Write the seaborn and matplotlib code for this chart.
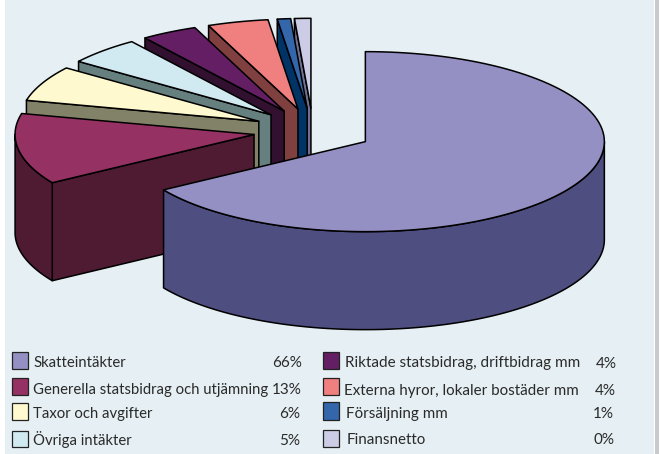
import numpy as np
import matplotlib
matplotlib.use("Agg")
import matplotlib.pyplot as plt
from matplotlib.patches import Rectangle, Polygon
import seaborn as sns

categories = ["Skatteintäkter", "Generella statsbidrag och utjämning", "Taxor och avgifter",
              "Övriga intäkter", "Riktade statsbidrag, driftbidrag mm",
              "Externa hyror, lokaler bostäder mm", "Försäljning mm", "Finansnetto"]
values = [66.0, 12.75, 6.35, 5.0, 3.8, 4.1, 0.9, 1.1]
labels = ["66%", "13%", "6%", "5%", "4%", "4%", "1%", "0%"]
top_colors = ["#9590C3", "#963163", "#FFF9CF", "#D1EAF2", "#641F64", "#F08080", "#3366AA", "#CCCCE6"]
side_colors = ["#4F4E80", "#4E1B33", "#828268", "#668080", "#32102F", "#804040", "#003366", "#707090"]

BG = "#E6EFF3"
sns.set_style("white")
plt.rcParams["font.family"] = ["Lato", "DejaVu Sans"]
palette = sns.color_palette(top_colors)
side_palette = sns.color_palette(side_colors)

fig = plt.figure(figsize=(6.59, 4.54), dpi=100, facecolor="white")
ax = fig.add_axes([0, 0, 1, 1])
ax.set_xlim(0, 659)
ax.set_ylim(454, 0)
ax.axis("off")
ax.add_patch(Rectangle((5, 0), 649, 454, fc=BG, ec="none", zorder=0))
ax.add_patch(Rectangle((655, 0), 4, 454, fc="#C8CACB", ec="none", zorder=0))

# Pie geometry
CX, CY, RX, RY, DEPTH, EXPLODE = 313.0, 130.8, 239.0, 90.0, 98.0, 0.25
LW = 1.1
fractions = np.array(values) / np.sum(values)
edges = np.concatenate([[0], np.cumsum(fractions)]) * 2 * np.pi


def arc(a, b, ox, oy, n=120):
    t = np.linspace(a, b, n)
    return np.column_stack([ox + RX * np.sin(t), oy - RY * np.cos(t)])


def draw_slice(i, z):
    a, b = edges[i], edges[i + 1]
    mid = (a + b) / 2
    ox = CX + EXPLODE * RX * np.sin(mid)
    oy = CY - EXPLODE * RY * np.cos(mid)
    kw = dict(ec="black", lw=LW, joinstyle="round", zorder=z)
    pts = arc(a, b, ox, oy)
    # cut wall at the start edge, seen from the front on all slices but the first
    if i > 0:
        p = pts[0]
        wall = [(ox, oy), tuple(p), (p[0], p[1] + DEPTH), (ox, oy + DEPTH)]
        ax.add_patch(Polygon(wall, fc=side_palette[i], **kw))
    # outer wall, lower half of the ellipse only
    lo, hi = max(a, np.pi / 2), min(b, 3 * np.pi / 2)
    if lo < hi:
        o = arc(lo, hi, ox, oy)
        low = o[::-1] + np.array([0, DEPTH])
        ax.add_patch(Polygon(np.vstack([o, low]), fc=side_palette[i], **kw))
    # top face
    ax.add_patch(Polygon(np.vstack([[ox, oy], pts]), fc=palette[i], **kw))


for k, i in enumerate(range(len(values) - 1, -1, -1)):
    draw_slice(i, 2 + k)

# Legend
swatch_y = [(352, 369), (378, 395), (403, 420), (431, 447),
            (352, 369), (378, 395), (402, 420), (430, 447)]
swatch_x = [12] * 4 + [323] * 4
text_x = [33, 33, 33, 33, 345, 344.5, 346.5, 346.5]
base_y = [367, 394, 418, 445, 367.5, 395, 418, 444.5]
pct_x = [302, 302, 300, 300, 617, 616, 614, 614]
name_size = [10.7, 10.7, 10.7, 10.7, 10.95, 10.9, 10.9, 10.9]
for i in range(8):
    y0, y1 = swatch_y[i]
    ax.add_patch(Rectangle((swatch_x[i], y0), 16, y1 - y0, fc=palette[i], ec="#222222", lw=0.9, zorder=20))
    ax.text(text_x[i], base_y[i], categories[i], fontsize=name_size[i], color="#2A2A2A",
            va="baseline", ha="left", zorder=21)
    ax.text(pct_x[i], base_y[i], labels[i], fontsize=11, color="#2A2A2A",
            va="baseline", ha="right", zorder=21)

fig.savefig("out.png", dpi=100, facecolor="white")
